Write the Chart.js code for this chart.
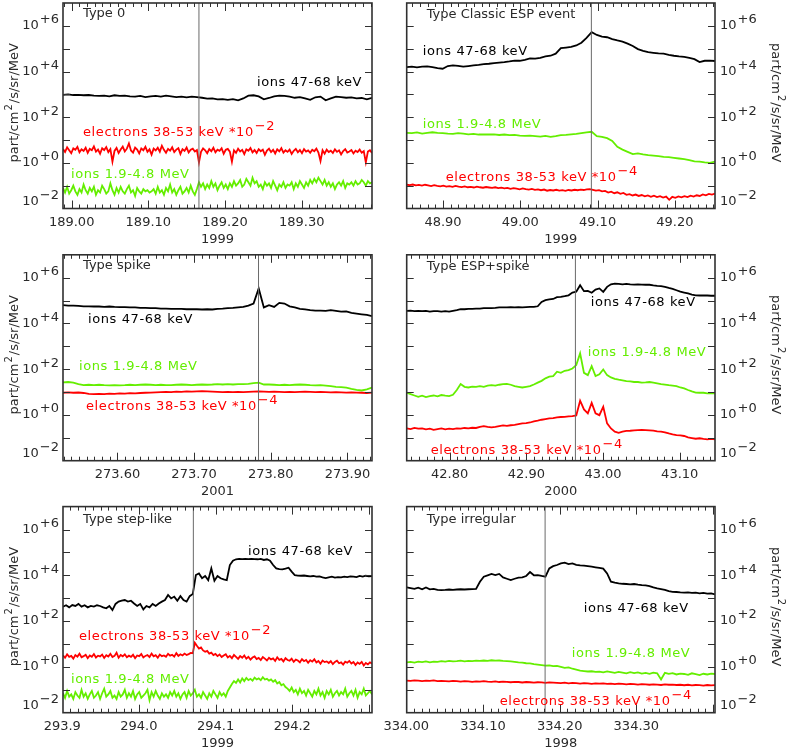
<!DOCTYPE html>
<html><head><meta charset="utf-8">
<script src="https://cdn.jsdelivr.net/npm/chart.js@4/dist/chart.umd.min.js"></script>
<style>
html,body{margin:0;padding:0;background:#fff;}
#wrap{position:relative;width:788px;height:750px;overflow:hidden;background:#fff;}
#wrap canvas{position:absolute;left:0;top:0;}
</style></head><body><div id="wrap"></div>
<script>
// ---------------- DATA (values are log10 of flux) ----------------
const panelTitles = ['Type 0','Type Classic ESP event','Type spike','Type ESP+spike','Type step-like','Type irregular'];
const years = ['1999','1999','2001','2000','1999','1998'];
const xRanges = [[188.9887,189.3917],[48.853,49.252],[273.529,273.932],[42.744,43.146],[293.901,294.304],[334.0005,334.4026]];
const eventTimes = [189.166,49.092,273.784,42.964,294.071,334.181];
const xTickLabels = [
  ['189.00','189.10','189.20','189.30'],
  ['48.90','49.00','49.10','49.20'],
  ['273.60','273.70','273.80','273.90'],
  ['42.80','42.90','43.00','43.10'],
  ['293.9','294.0','294.1','294.2'],
  ['334.00','334.10','334.20','334.30']
];
const yTickExponents = [-2,0,2,4,6];
const yTickSup = ['\u22122','+0','+2','+4','+6'];
const electronFactorSup = ['\u22122','\u22124','\u22124','\u22124','\u22122','\u22124'];
const seriesNames = ['ions 47-68 keV','ions 1.9-4.8 MeV','electrons 38-53 keV *10'];

// Type 0
const t0IonsLowLog = [2.98,3.00,2.97,2.98,2.96,2.97,2.94,2.93,2.94,2.91,2.96,2.93,2.94,2.91,2.90,2.93,2.88,2.91,2.93,2.90,2.94,2.91,2.88,2.90,2.87,2.90,2.88,2.85,2.81,2.82,2.78,2.79,2.76,2.79,2.74,2.82,2.94,2.96,2.91,2.78,2.84,2.91,2.94,2.93,2.90,2.85,2.88,2.82,2.76,2.87,2.90,2.74,2.82,2.90,2.88,2.85,2.87,2.82,2.84,2.78,2.85];
const t0IonsHighLog = [
 -1.10,-1.30,-1.05,-1.35,-1.20,-1.00,-1.25,-1.40,-1.15,-1.30,
 -0.95,-1.20,-1.35,-1.10,-1.25,-1.05,-1.40,-1.20,-1.30,-1.00,
 -1.15,-1.35,-1.25,-0.90,-1.20,-1.40,-1.10,-1.30,-1.05,-1.25,
 -1.35,-1.15,-1.00,-1.30,-1.20,-1.45,-1.10,-1.25,-1.35,-1.15,
 -1.25,-1.20,-1.30,-1.25,-1.15,-1.35,-1.05,-1.30,-1.20,-1.40,
 -1.10,-1.25,-0.95,-1.30,-1.15,-1.40,-1.20,-1.05,-1.35,-1.25,
 -1.10,-1.30,-1.00,-1.25,-1.40,-1.15,-0.85,-1.05,-0.90,-1.15,
 -0.95,-1.10,-0.80,-1.05,-0.90,-1.20,-1.00,-0.85,-1.10,-0.95,
 -1.15,-0.90,-1.05,-0.80,-1.00,-0.90,-0.75,-1.05,-0.95,-0.70,
 -0.85,-1.00,-0.65,-0.90,-0.80,-1.05,-0.95,-1.15,-0.85,-1.00,
 -0.90,-1.10,-0.80,-1.00,-1.20,-0.95,-1.05,-0.85,-1.10,-0.95,
 -1.00,-0.85,-1.15,-0.90,-1.05,-0.80,-0.95,-1.10,-0.85,-1.00,
 -0.75,-0.90,-0.70,-0.85,-0.65,-0.80,-0.95,-0.75,-1.00,-0.85,
 -1.05,-0.90,-1.15,-0.95,-0.85,-1.00,-0.80,-1.10,-0.90,-0.95,
 -0.85,-1.00,-0.80,-0.95,-0.90,-0.75,-0.85,-1.00,-0.80,-0.90,-0.85];
const t0ElectronsLog = [
 0.60,0.48,0.68,0.55,0.42,0.63,0.57,0.70,0.46,0.59,
 0.52,0.66,0.44,0.61,0.55,0.72,0.49,0.58,0.40,0.64,
 0.56,0.69,0.47,0.60,0.05,0.52,0.65,0.43,0.58,0.71,
 0.50,0.62,0.85,0.54,0.45,0.67,0.58,0.41,0.63,0.55,
 0.70,0.48,0.59,0.36,0.62,0.54,0.66,0.49,0.75,0.57,
 0.44,0.61,0.53,0.68,0.47,0.58,0.64,0.39,0.60,0.52,
 0.67,0.45,0.57,0.62,0.50,0.56,0.02,0.48,0.63,0.55,
 0.42,0.60,0.51,0.66,0.46,0.58,0.53,0.64,0.40,0.57,
 0.61,0.49,0.05,0.55,0.44,0.62,0.50,0.57,0.38,0.59,
 0.53,0.65,0.46,0.56,0.43,0.60,0.51,0.58,0.35,0.54,
 0.62,0.47,0.57,0.41,0.59,0.50,0.64,0.45,0.55,0.48,
 0.58,0.39,0.53,0.61,0.46,0.56,0.42,0.60,0.49,0.54,
 0.44,0.57,0.51,0.62,0.45,0.08,0.55,0.40,0.58,0.47,
 0.53,0.43,0.59,0.48,0.55,0.37,0.52,0.60,0.45,0.50,
 0.56,0.41,0.53,0.47,0.58,0.44,0.51,0.02,0.49,0.55,0.43];

// Classic ESP
const espIonsLowLog = [4.19,4.21,4.18,4.21,4.22,4.19,4.15,4.12,4.24,4.27,4.25,4.21,4.24,4.27,4.29,4.32,4.34,4.37,4.39,4.41,4.44,4.48,4.47,4.51,4.57,4.56,4.60,4.66,4.69,4.78,5.02,5.05,5.08,5.14,5.26,5.47,5.72,5.60,5.53,5.50,5.42,5.36,5.31,5.22,5.12,4.98,4.90,4.85,4.82,4.79,4.78,4.73,4.69,4.66,4.64,4.60,4.54,4.41,4.47,4.48,4.46];
const espIonsHighLog = [1.31,1.30,1.33,1.28,1.31,1.34,1.31,1.30,1.28,1.27,1.30,1.28,1.25,1.27,1.24,1.25,1.24,1.25,1.22,1.24,1.21,1.22,1.19,1.18,1.19,1.17,1.15,1.18,1.14,1.17,1.21,1.22,1.25,1.27,1.30,1.33,1.36,1.17,1.14,1.08,0.96,0.70,0.58,0.48,0.38,0.41,0.37,0.34,0.32,0.29,0.26,0.25,0.22,0.19,0.16,0.12,0.06,0.05,0.02,0.00,0.05];
const espElectronsLog = [-0.96,-0.98,-0.95,-0.99,-0.97,-1.00,-0.96,-0.99,-1.02,-0.98,-1.01,
 -1.03,-1.00,-1.04,-1.02,-1.05,-1.01,-1.04,-1.06,-1.03,-1.07,
 -1.05,-1.08,-1.04,-1.07,-1.09,-1.06,-1.08,-1.10,-1.07,-1.11,
 -1.09,-1.12,-1.10,-1.14,-1.11,-1.13,-1.16,-1.12,-1.15,-1.17,
 -1.14,-1.18,-1.16,-1.20,-1.17,-1.22,-1.19,-1.21,-1.18,-1.22,
 -1.20,-1.23,-1.19,-1.21,-1.18,-1.20,-1.17,-1.19,-1.16,-1.15,
 -1.18,-1.22,-1.20,-1.25,-1.23,-1.30,-1.26,-1.33,-1.29,-1.36,
 -1.32,-1.40,-1.37,-1.43,-1.39,-1.45,-1.41,-1.47,-1.43,-1.49,
 -1.44,-1.50,-1.46,-1.52,-1.48,-1.62,-1.49,-1.53,-1.47,-1.51,
 -1.46,-1.50,-1.44,-1.48,-1.42,-1.45,-1.38,-1.42,-1.36,-1.39,-1.35];

// Spike
const spikeIonsLowLog = [4.80,4.78,4.78,4.77,4.75,4.75,4.74,4.74,4.72,4.74,4.72,4.71,4.71,4.70,4.70,4.68,4.68,4.67,4.67,4.65,4.65,4.64,4.64,4.64,4.62,4.62,4.62,4.61,4.62,4.61,4.64,4.65,4.67,4.68,4.70,4.72,4.78,4.87,5.53,4.70,4.80,4.72,4.90,4.87,4.75,4.70,4.64,4.61,4.58,4.56,4.56,4.55,4.58,4.55,4.52,4.53,4.46,4.43,4.40,4.37,4.32];
const spikeIonsHighLog = [1.42,1.44,1.41,1.35,1.30,1.32,1.30,1.32,1.30,1.29,1.30,1.29,1.30,1.32,1.30,1.32,1.33,1.32,1.30,1.32,1.30,1.30,1.32,1.33,1.32,1.30,1.32,1.33,1.32,1.33,1.35,1.33,1.35,1.33,1.35,1.35,1.36,1.39,1.41,1.33,1.33,1.32,1.30,1.32,1.30,1.32,1.33,1.32,1.30,1.29,1.30,1.28,1.26,1.23,1.22,1.19,1.14,1.10,1.07,1.12,1.20];
const spikeElectronsLog = [0.97,0.99,0.97,0.98,0.96,0.92,0.91,0.92,0.91,0.93,0.92,0.94,0.93,0.95,0.94,0.96,0.97,0.98,0.99,1.00,1.01,1.00,1.02,1.01,1.03,1.02,1.03,1.04,1.03,1.02,1.01,1.00,1.01,1.00,1.01,1.00,1.01,1.02,1.03,1.02,1.01,1.02,1.01,1.00,1.01,1.00,1.01,1.02,1.01,1.00,1.01,1.00,0.99,1.00,0.99,0.98,0.99,0.98,0.97,0.96,0.98];

// ESP + spike
const espSpikeIonsLowLog = [4.55,4.56,4.54,4.55,4.54,4.55,4.52,4.54,4.54,4.52,4.54,4.52,4.55,4.58,4.62,4.62,4.64,4.64,4.65,4.65,4.67,4.67,4.67,4.68,4.70,4.70,4.70,4.71,4.70,4.71,4.70,4.71,4.72,4.72,4.75,4.94,5.02,5.05,5.07,5.15,5.16,5.19,5.23,5.35,5.39,5.67,5.41,5.42,5.34,5.48,5.53,5.38,5.60,5.71,5.74,5.73,5.71,5.73,5.71,5.70,5.71,5.70,5.69,5.69,5.66,5.64,5.63,5.60,5.55,5.51,5.45,5.39,5.35,5.31,5.26,5.23,5.22,5.23,5.22,5.21,5.21];
const espSpikeIonsHighLog = [0.97,0.91,0.85,0.79,0.84,0.78,0.82,0.85,0.81,0.87,0.84,0.82,0.88,1.09,1.35,1.23,1.20,1.24,1.23,1.26,1.23,1.28,1.30,1.28,1.32,1.35,1.36,1.32,1.26,1.23,1.20,1.23,1.26,1.33,1.41,1.49,1.60,1.67,1.70,1.89,1.84,1.93,1.96,2.03,2.18,2.69,1.84,1.74,2.13,1.70,1.78,1.99,1.74,1.64,1.58,1.54,1.51,1.48,1.47,1.44,1.44,1.41,1.42,1.44,1.41,1.38,1.35,1.33,1.30,1.28,1.26,1.20,1.16,1.09,1.03,0.98,0.97,0.97,0.94,0.96,0.94];
const espSpikeElectronsLog = [-0.59,-0.62,-0.57,-0.60,-0.59,-0.63,-0.60,-0.65,-0.62,-0.59,-0.63,-0.60,-0.62,-0.59,-0.60,-0.57,-0.59,-0.56,-0.57,-0.52,-0.49,-0.52,-0.54,-0.52,-0.49,-0.46,-0.48,-0.45,-0.43,-0.40,-0.37,-0.36,-0.33,-0.28,-0.25,-0.21,-0.18,-0.15,-0.14,-0.11,-0.09,-0.08,-0.06,-0.05,-0.02,0.62,0.24,0.07,0.53,0.07,-0.01,0.36,-0.37,-0.59,-0.73,-0.78,-0.73,-0.70,-0.69,-0.67,-0.66,-0.65,-0.66,-0.67,-0.69,-0.72,-0.73,-0.76,-0.81,-0.85,-0.88,-0.89,-0.92,-0.98,-1.01,-1.04,-1.02,-1.05,-1.07,-1.05,-1.07];

// Step-like
const stepIonsLowLog = [2.63,2.69,2.60,2.70,2.66,2.75,2.63,2.69,2.60,2.66,2.63,2.69,2.66,2.60,2.56,2.66,2.48,2.75,2.85,2.89,2.92,2.85,2.89,2.77,2.66,2.75,2.51,2.66,2.60,2.75,2.66,2.77,2.85,2.92,3.14,2.99,3.07,2.89,3.09,2.92,2.85,3.09,3.18,4.01,4.08,3.87,3.97,3.79,4.30,3.76,3.97,3.87,3.82,3.79,4.45,4.64,4.70,4.72,4.71,4.72,4.71,4.72,4.71,4.70,4.72,4.67,4.70,4.64,4.45,4.30,4.27,4.26,4.29,4.33,4.16,4.01,3.99,3.98,3.99,3.97,3.95,3.97,3.94,3.95,3.91,3.88,3.91,3.94,3.90,3.92,3.91,3.94,3.92,3.95,3.94,3.92,3.97,3.94,3.98,3.95,3.97];
const stepIonsHighLog = [
 -1.15,-1.35,-1.05,-1.30,-1.20,-1.40,-1.10,-1.25,-1.35,-1.00,
 -1.30,-1.15,-1.40,-1.20,-1.05,-1.35,-1.25,-1.10,-1.40,-1.15,
 -0.95,-1.30,-1.20,-1.05,-1.35,-1.25,-1.40,-1.10,-1.30,-1.20,
 -1.00,-1.35,-1.15,-1.30,-1.05,-1.40,-1.20,-1.10,-1.35,-1.25,
 -1.15,-1.00,-1.45,-1.10,-1.30,-1.05,-1.25,-1.40,-1.15,-1.30,
 -1.20,-1.35,-1.10,-1.25,-1.05,-1.30,-1.15,-1.40,-1.20,-1.10,
 -1.35,-1.05,-1.25,-1.15,-1.00,-1.30,-1.20,-1.35,-1.10,-1.25,
 -1.40,-1.15,-1.30,-1.05,-1.20,-1.35,-1.10,-1.25,-1.15,-1.30,
 -1.05,-0.90,-0.75,-0.62,-0.70,-0.55,-0.68,-0.50,-0.62,-0.48,
 -0.58,-0.52,-0.60,-0.47,-0.55,-0.50,-0.58,-0.45,-0.55,-0.52,
 -0.60,-0.55,-0.65,-0.58,-0.72,-0.66,-0.80,-0.75,-0.88,-0.95,
 -1.05,-0.90,-1.10,-1.00,-1.20,-0.95,-1.15,-1.05,-1.25,-1.00,
 -1.15,-1.30,-1.05,-1.20,-0.95,-1.25,-1.10,-1.35,-1.05,-1.20,
 -1.00,-1.30,-1.15,-1.05,-1.25,-1.10,-1.20,-0.95,-1.30,-1.15,
 -1.05,-1.25,-1.00,-1.35,-1.10,-1.20,-0.95,-1.25,-1.15,-1.05,-1.20];
const stepElectronsLog = [
 0.50,0.40,0.55,0.44,0.48,0.36,0.52,0.45,0.58,0.42,
 0.47,0.53,0.38,0.50,0.44,0.56,0.41,0.49,0.46,0.54,
 0.39,0.51,0.45,0.57,0.43,0.48,0.62,0.40,0.52,0.46,
 0.55,0.42,0.49,0.44,0.53,0.38,0.50,0.47,0.56,0.41,
 0.48,0.52,0.43,0.58,0.46,0.51,0.40,0.54,0.47,0.50,
 0.44,0.57,0.49,0.53,0.45,0.60,0.48,0.55,0.50,0.58,
 0.52,0.56,0.61,0.60,1.05,0.92,0.80,0.85,0.72,0.66,
 0.70,0.58,0.62,0.52,0.57,0.47,0.54,0.43,0.50,0.55,
 0.41,0.48,0.38,0.52,0.44,0.35,0.47,0.40,0.50,0.36,
 0.44,0.32,0.41,0.46,0.34,0.39,0.30,0.43,0.36,0.28,
 0.40,0.33,0.37,0.26,0.42,0.31,0.35,0.24,0.38,0.30,
 0.27,0.36,0.22,0.32,0.28,0.20,0.34,0.25,0.30,0.18,
 0.29,0.23,0.33,0.19,0.26,0.14,0.28,0.21,0.24,0.17,
 0.25,0.12,0.22,0.27,0.16,0.20,0.10,0.23,0.18,0.26,
 0.15,0.21,0.08,0.19,0.13,0.22,0.06,0.17,0.11,0.20,0.14];

// Irregular
const irrIonsLowLog = [3.47,3.44,3.41,3.46,3.39,3.47,3.39,3.41,3.36,3.35,3.36,3.38,3.36,3.38,3.39,3.38,3.39,3.40,3.41,3.72,3.94,4.00,4.06,4.01,4.06,3.91,3.85,3.79,3.85,3.90,3.91,3.97,4.14,4.00,4.01,3.97,3.94,4.30,4.40,4.45,4.52,4.55,4.49,4.52,4.46,4.43,4.42,4.40,4.38,4.35,4.32,4.29,4.08,3.72,3.68,3.65,3.63,3.62,3.60,3.62,3.59,3.57,3.56,3.53,3.47,3.43,3.40,3.36,3.31,3.28,3.27,3.25,3.24,3.25,3.23,3.24,3.21,3.23,3.20,3.21,3.17];
const irrIonsHighLog = [0.20,0.22,0.19,0.23,0.21,0.24,0.20,0.23,0.22,0.25,
 0.23,0.26,0.24,0.25,0.27,0.24,0.26,0.25,0.27,0.26,
 0.28,0.26,0.29,0.27,0.28,0.26,0.25,0.24,0.22,0.20,
 0.19,0.16,0.15,0.12,0.10,0.08,0.06,0.07,0.03,0.04,
 0.00,-0.04,-0.02,-0.08,-0.12,-0.16,-0.18,-0.20,-0.19,-0.22,
 -0.21,-0.24,-0.20,-0.23,-0.26,-0.22,-0.25,-0.28,-0.23,-0.27,
 -0.24,-0.29,-0.26,-0.30,-0.25,-0.28,-0.55,-0.26,-0.30,-0.27,
 -0.33,-0.29,-0.31,-0.35,-0.28,-0.32,-0.36,-0.30,-0.33,-0.29,-0.31];
const irrElectronsLog = [-0.60,-0.61,-0.59,-0.60,-0.62,-0.60,-0.61,-0.59,-0.62,-0.61,
 -0.62,-0.63,-0.61,-0.62,-0.64,-0.62,-0.63,-0.65,-0.63,-0.64,
 -0.62,-0.64,-0.65,-0.63,-0.66,-0.64,-0.65,-0.67,-0.65,-0.66,
 -0.68,-0.66,-0.67,-0.69,-0.67,-0.68,-0.70,-0.68,-0.69,-0.70,
 -0.71,-0.69,-0.72,-0.70,-0.71,-0.73,-0.71,-0.72,-0.74,-0.72,
 -0.73,-0.72,-0.74,-0.73,-0.75,-0.73,-0.74,-0.76,-0.74,-0.75,
 -0.77,-0.75,-0.76,-0.78,-0.76,-0.77,-0.79,-0.76,-0.78,-0.77,
 -0.79,-0.78,-0.80,-0.78,-0.81,-0.79,-0.80,-0.82,-0.79,-0.81,-0.80];

const ionsLowSeries = [t0IonsLowLog, espIonsLowLog, spikeIonsLowLog, espSpikeIonsLowLog, stepIonsLowLog, irrIonsLowLog];
const ionsHighSeries = [t0IonsHighLog, espIonsHighLog, spikeIonsHighLog, espSpikeIonsHighLog, stepIonsHighLog, irrIonsHighLog];
const electronSeries = [t0ElectronsLog, espElectronsLog, spikeElectronsLog, espSpikeElectronsLog, stepElectronsLog, irrElectronsLog];

// ---------------- LAYOUT / STYLE ----------------
const colLeft = [63, 406.7], colRight = [372, 715];
const rowTop = [3, 254.8, 506.6], rowBottom = [208.5, 460.7, 712.7];
const COL_BLACK = '#000000', COL_GREEN = 'rgb(100,238,0)', COL_RED = 'rgb(255,0,0)';
const FONT = '"DejaVu Sans", Verdana, sans-serif';
// label offsets (px from chart-area top-left): [type, ionsLow, ionsHigh, electrons]
const labelOffsets = [
  [[20,11],[194,80],[8,172],[20,130]],
  [[20,12],[16,49],[16,122],[39,175]],
  [[20,11],[25,65],[16,112],[23,152]],
  [[20,12],[184,48],[181,98],[24,196]],
  [[20,13],[185,45],[8,173],[16,130]],
  [[20,13],[177,102],[165,147],[93,195]]
];

function toPoints(logs, range) {
  const n = logs.length, dt = (range[1]-range[0])/(n-1);
  return logs.map((v,i) => ({x: range[0] + i*dt, y: Math.pow(10, v)}));
}

function drawSupText(ctx, x, y, base, sup, rise, supFont) {
  ctx.fillText(base, x, y);
  const w = ctx.measureText(base).width;
  const f = ctx.font;
  if (supFont) ctx.font = supFont;
  ctx.fillText(sup, x + w + 1, y - rise);
  const w2 = ctx.measureText(sup).width;
  ctx.font = f;
  return w + 1 + w2;
}

const decor = {
  id: 'decor',
  afterDatasetsDraw(chart, args, opts) {
    const p = opts.idx, col = p % 2;
    const ctx = chart.ctx, a = chart.chartArea;
    const xs = chart.scales.x, ys = chart.scales.y;
    const range = xRanges[p];
    ctx.save();
    // inward ticks
    ctx.strokeStyle = '#303030'; ctx.lineWidth = 1;
    ctx.beginPath();
    for (let e = -1; e <= 6; e++) {
      const y = Math.round(ys.getPixelForValue(Math.pow(10, e))) + 0.5;
      ctx.moveTo(a.left, y); ctx.lineTo(a.left + 7, y);
      ctx.moveTo(a.right, y); ctx.lineTo(a.right - 7, y);
    }
    const k0 = Math.ceil(range[0]*100 - 1e-6), k1 = Math.floor(range[1]*100 + 1e-6);
    for (let k = k0; k <= k1; k++) {
      const x = Math.round(xs.getPixelForValue(k/100)) + 0.5;
      const len = (k % 10 === 0) ? 8 : 4;
      ctx.moveTo(x, a.bottom); ctx.lineTo(x, a.bottom - len);
      ctx.moveTo(x, a.top); ctx.lineTo(x, a.top + len);
    }
    ctx.stroke();
    ctx.lineWidth = 1.6; ctx.strokeStyle = '#303030';
    ctx.strokeRect(a.left, a.top, a.right - a.left, a.bottom - a.top);

    // x tick labels
    ctx.fillStyle = '#2a2a2a'; ctx.font = '13px ' + FONT;
    ctx.textBaseline = 'middle'; ctx.textAlign = 'center';
    xTickLabels[p].forEach(s => {
      ctx.fillText(s, xs.getPixelForValue(parseFloat(s)), a.bottom + 14);
    });
    ctx.fillText(years[p], (a.left + a.right)/2, a.bottom + 31);

    // y tick labels
    ctx.textAlign = 'left';
    yTickExponents.forEach((e, i) => {
      let y = ys.getPixelForValue(Math.pow(10, e));
      if (e === -2) y -= 7;
      const sup = yTickSup[i];
      const w = ctx.measureText('10').width + 1 + ctx.measureText(sup).width;
      const x0 = col === 0 ? a.left - 4 - w : a.right + 5;
      drawSupText(ctx, x0, y, '10', sup, 6);
    });

    // y axis title
    ctx.save();
    const cy = (a.top + a.bottom)/2 - 3;
    if (col === 0) { ctx.translate(15, cy); ctx.rotate(-Math.PI/2); }
    else { ctx.translate(775, cy); ctx.rotate(Math.PI/2); }
    ctx.font = '13px ' + FONT; ctx.textAlign = 'left';
    const wA = ctx.measureText('part/cm').width, wC = ctx.measureText('/s/sr/MeV').width;
    ctx.font = '10px ' + FONT; const wB = ctx.measureText('2').width;
    ctx.font = '13px ' + FONT;
    let tx = -(wA + wB + wC + 2)/2;
    ctx.fillText('part/cm', tx, 0); tx += wA + 1;
    ctx.font = '10px ' + FONT; ctx.fillText('2', tx, -6); tx += wB + 1;
    ctx.font = '13px ' + FONT; ctx.fillText('/s/sr/MeV', tx, 0);
    ctx.restore();

    // panel title and series labels
    const off = labelOffsets[p];
    ctx.textAlign = 'left'; ctx.textBaseline = 'middle';
    ctx.font = '13px ' + FONT; ctx.fillStyle = '#2a2a2a';
    ctx.fillText(panelTitles[p], a.left + off[0][0], a.top + off[0][1]);
    try { ctx.letterSpacing = '0.6px'; } catch (e) {}
    ctx.fillStyle = COL_BLACK;
    ctx.fillText(seriesNames[0], a.left + off[1][0], a.top + off[1][1]);
    ctx.fillStyle = COL_GREEN;
    ctx.fillText(seriesNames[1], a.left + off[2][0], a.top + off[2][1]);
    ctx.fillStyle = COL_RED;
    drawSupText(ctx, a.left + off[3][0], a.top + off[3][1], seriesNames[2], electronFactorSup[p], 6);
    try { ctx.letterSpacing = '0px'; } catch (e) {}
    ctx.restore();
  }
};

const wrap = document.getElementById('wrap');
for (let p = 0; p < 6; p++) {
  const col = p % 2, row = Math.floor(p / 2);
  const cv = document.createElement('canvas');
  cv.width = 788; cv.height = 750;
  wrap.appendChild(cv);
  const range = xRanges[p];
  const line = (data, color) => ({data, borderColor: color, borderWidth: 1.8, pointRadius: 0, tension: 0, fill: false});
  new Chart(cv, {
    type: 'line',
    data: {
      datasets: [
        {data: [{x: eventTimes[p], y: 1e-2}, {x: eventTimes[p], y: 1e7}], borderColor: '#6a6a6a', borderWidth: 1, pointRadius: 0},
        line(toPoints(ionsLowSeries[p], range), COL_BLACK),
        line(toPoints(electronSeries[p], range), COL_RED),
        line(toPoints(ionsHighSeries[p], range), COL_GREEN)
      ]
    },
    options: {
      responsive: false, animation: false, devicePixelRatio: 1, events: [],
      layout: {padding: {left: colLeft[col], top: rowTop[row], right: 788 - colRight[col], bottom: 750 - rowBottom[row]}},
      scales: {
        x: {type: 'linear', display: false, min: range[0], max: range[1]},
        y: {type: 'logarithmic', display: false, min: 1e-2, max: 1e7}
      },
      plugins: {legend: {display: false}, tooltip: {enabled: false}, decor: {idx: p}}
    },
    plugins: [decor]
  });
}
</script></body></html>
